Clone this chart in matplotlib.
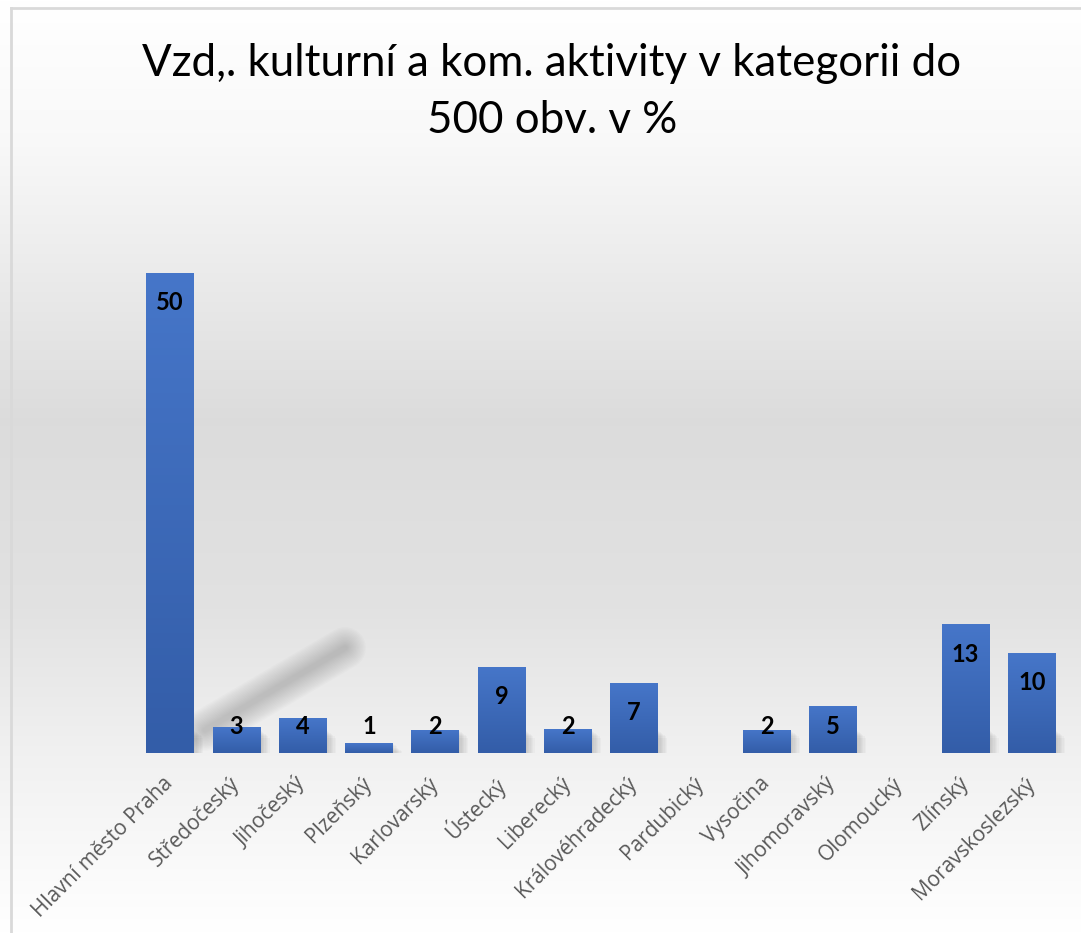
import numpy as np
import matplotlib.pyplot as plt
from matplotlib.patches import Rectangle
from matplotlib.lines import Line2D
from matplotlib.colors import to_rgb

title = "Vzd,. kulturní a kom. aktivity v kategorii do\n500 obv. v %"
regions = ["Hlavní město Praha", "Středočeský", "Jihočeský", "Plzeňský", "Karlovarský",
           "Ústecký", "Liberecký", "Královéhradecký", "Pardubický", "Vysočina",
           "Jihomoravský", "Olomoucký", "Zlínský", "Moravskoslezský"]
values = [50, 2.7, 3.6, 1.0, 2.4, 9.0, 2.45, 7.3, 0, 2.4, 4.9, 0, 13.4, 10.4]

W, H = 1081, 933
fig = plt.figure(figsize=(W / 100, H / 100), dpi=100)

# background: vertical gray gradient, white at top and bottom
bg = fig.add_axes([0, 0, 1, 1], zorder=0)
yy = np.linspace(0, 1, 400)  # 0 = top
stops = [0.0, 0.15, 0.45, 0.65, 0.81, 1.0]
grays = [1.0, 0.975, 0.862, 0.885, 0.945, 1.0]
g = np.interp(yy, stops, grays)
img = np.repeat(g[:, None], 2, axis=1)
bg.imshow(np.dstack([img, img, img]), extent=[0, 1, 0, 1], aspect="auto", zorder=0)
bg.add_line(Line2D([11 / W, 11 / W], [0, 1 - 8 / H], color="#d9d9d9", lw=2))
bg.add_line(Line2D([11 / W, 1], [1 - 8 / H, 1 - 8 / H], color="#d9d9d9", lw=2))
# faint blurred diagonal shadow left over in the original sheet
for lw in range(30, 2, -2):
    bg.add_line(Line2D([205 / W, 345 / W], [1 - 730 / H, 1 - 648 / H],
                       color="#606060", lw=lw, alpha=0.022, solid_capstyle="round"))
bg.set_xlim(0, 1)
bg.set_ylim(0, 1)
bg.axis("off")

fig.text(552 / W, 1 - 92 / H, title, ha="center", va="center", fontsize=31.6,
         family="Lato", color="black", linespacing=1.5)

# plot area
x0, x1 = 137, 1065
base, scale = 753, 9.6
ymax = 55
ax = fig.add_axes([x0 / W, 1 - base / H, (x1 - x0) / W, ymax * scale / H], zorder=1)
ax.patch.set_alpha(0)

x = np.arange(len(regions))
bars = ax.bar(x, values, width=0.72, color="#4472C4", zorder=3)

top_c = np.array(to_rgb("#4676C9"))
bot_c = np.array(to_rgb("#335DA8"))
grad = np.linspace(0, 1, 64)[:, None]
grad_img = (top_c * (1 - grad) + bot_c * grad)[:, None, :]
for b, v in zip(bars, values):
    if v <= 0:
        continue
    bx, bw = b.get_x(), b.get_width()
    # soft shadow to the right
    for off in np.linspace(0.02, 0.14, 7):
        ax.add_patch(Rectangle((bx + off, 0.05), bw, min(v, 2.4) - off * 6,
                               color="black", alpha=0.025, lw=0, zorder=2))
    im = ax.imshow(grad_img, extent=[bx, bx + bw, 0, v], aspect="auto", zorder=4)
    im.set_clip_path(b)

for xi, v in zip(x, values):
    if v <= 0:
        continue
    ax.text(xi, max(v - 3.1, 2.8), f"{v:.0f}", ha="center", va="center",
            fontsize=17, fontweight="bold", family="Lato", color="black", zorder=5)

ax.set_xlim(-0.5, len(regions) - 0.5)
ax.set_ylim(0, ymax)
ax.set_yticks([])
ax.set_xticks(x)
ax.set_xticklabels(regions, rotation=45, ha="right", va="center", rotation_mode="anchor",
                   fontsize=15, family="Open Sans", color="#595959")
ax.tick_params(axis="x", length=0, pad=20)
for s in ax.spines.values():
    s.set_visible(False)

fig.savefig("out.png", dpi=100)
